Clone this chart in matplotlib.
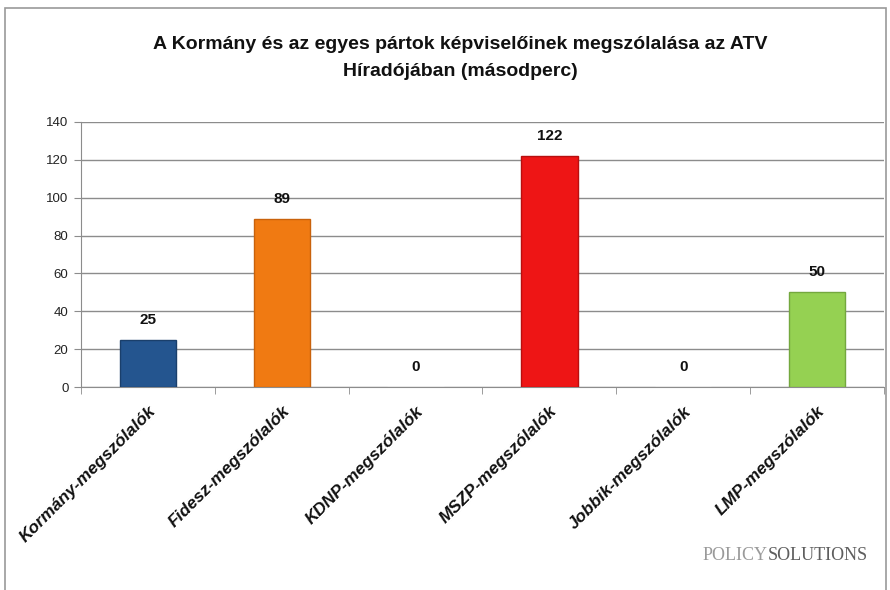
import numpy as np
import matplotlib
matplotlib.use("Agg")
import matplotlib.pyplot as plt
from matplotlib.patches import Rectangle

categories = ["Kormány-megszólalók", "Fidesz-megszólalók", "KDNP-megszólalók",
              "MSZP-megszólalók", "Jobbik-megszólalók", "LMP-megszólalók"]
values = [25, 89, 0, 122, 0, 50]
colors = ["#24558f", "#f07a12", "#ffffff", "#ee1515", "#ffffff", "#95d152"]
edges = ["#1a3f6b", "#c9620c", "#ffffff", "#b80f0f", "#ffffff", "#74a83e"]
yticks = [0, 20, 40, 60, 80, 100, 120, 140]
title = "A Kormány és az egyes pártok képviselőinek megszólalása az ATV\nHíradójában (másodperc)"

plt.rcParams['font.family'] = ['Liberation Sans', 'DejaVu Sans']

fig = plt.figure(figsize=(8.9, 5.9), dpi=100)
ax = fig.add_axes([81 / 890, 1 - 387 / 590, 803 / 890, 265 / 590])

# outer chart frame
fig.patches.append(Rectangle((5 / 890, -0.01), 0.99, 1 - 8 / 590 + 0.01,
                             transform=fig.transFigure, fill=False,
                             edgecolor="#9a9a9a", linewidth=1.2))

x = np.arange(len(categories))
ax.bar(x, values, width=0.42, color=colors, edgecolor=edges, linewidth=1.0, zorder=3)

for xi, v in zip(x, values):
    ax.text(xi, v + 10.5, str(v), ha="center", va="center", fontsize=11,
            fontweight="bold", color="#111111", zorder=4)

ax.set_xlim(-0.5, len(categories) - 0.5)
ax.set_ylim(0, 140)
ax.set_yticks(yticks)
ax.set_yticklabels([str(t) for t in yticks], fontsize=9.5, color="#222222")
ax.yaxis.grid(True, color="#8c8c8c", linewidth=1.0, zorder=0)
ax.set_axisbelow(True)

ax.set_xticks(x)
ax.set_xticklabels(categories, rotation=45, ha="right", rotation_mode="anchor",
                   fontsize=12.5, fontweight="bold", style="italic", color="#111111")
ax.tick_params(axis="x", length=0, pad=12)
ax.set_xticks(np.arange(-0.5, len(categories)), minor=True)
ax.tick_params(axis="x", which="minor", length=5, color="#8c8c8c")
ax.tick_params(axis="y", length=5, color="#8c8c8c", pad=4)

for side in ["top", "right"]:
    ax.spines[side].set_visible(False)
ax.spines["left"].set_color("#8c8c8c")
ax.spines["bottom"].set_color("#8c8c8c")

fig.text(460 / 890, 1 - 58 / 590, title, ha="center", va="center", fontsize=14,
         fontweight="bold", color="#111111", linespacing=1.7)

# logo text
t1 = fig.text(703 / 890, 1 - 556 / 590, "POLICY", ha="left", va="center", fontsize=13,
              family="Liberation Serif", color="#9a9a9a")
fig.canvas.draw()
x_end = t1.get_window_extent().x1 / fig.bbox.width
fig.text(x_end, 1 - 556 / 590, "SOLUTIONS", ha="left", va="center", fontsize=13,
         family="Liberation Serif", color="#5e5e5e")

plt.savefig("out.png", dpi=100)
